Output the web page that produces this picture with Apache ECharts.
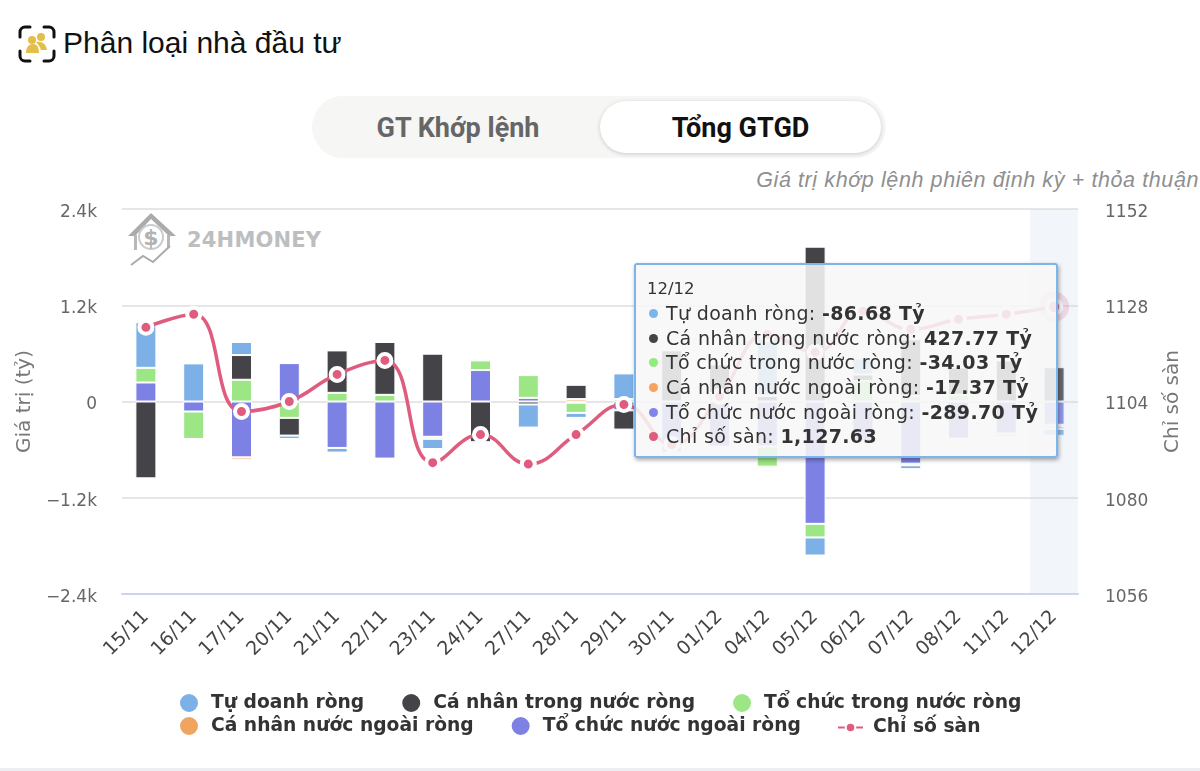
<!DOCTYPE html>
<html>
<head>
<meta charset="utf-8">
<script src="https://cdn.jsdelivr.net/npm/echarts@6/dist/echarts.min.js"></script>
<style>
  html, body { margin: 0; padding: 0; background: #fff; }
  .page { position: relative; width: 1200px; height: 771px; overflow: hidden; }
  #chart { position: absolute; left: 0; top: 0; width: 1200px; height: 771px; }
  .title { position: absolute; left: 63px; top: 24px; font: 30px/38px "Liberation Sans", sans-serif; color: #111; }
  .title-icon { position: absolute; left: 18px; top: 25px; }
  .toggle { position: absolute; left: 312px; top: 96px; width: 574px; height: 62px; border-radius: 31px; background: #f6f6f4; }
  .toggle div { position: absolute; top: 5px; height: 52px; text-align: center; font: bold 27px/54px Roboto, sans-serif; }
  .toggle .off { left: 0; width: 292px; color: #666; }
  .toggle .on { left: 288px; width: 281px; background: #fff; color: #111; border-radius: 26px; box-shadow: 0 1px 4px rgba(0,0,0,.18); }
  .note { position: absolute; right: 1px; top: 167px; font: italic 21.5px/26px "Liberation Sans", sans-serif; color: #8f8f8f; letter-spacing: .6px; }
  .logo { position: absolute; left: 126px; top: 210px; }
  .logo-text { position: absolute; left: 187px; top: 227px; font: bold 21px/26px "DejaVu Sans", sans-serif; color: #bcbec0; letter-spacing: .2px; }
  .band { position: absolute; left: 0; top: 768px; width: 1200px; height: 3px; background: #eceef2; }
</style>
</head>
<body>
<div class="page">
  <svg class="title-icon" width="38" height="38" viewBox="0 0 38 38">
    <path d="M2 12V7a5 5 0 0 1 5-5h5M26 2h5a5 5 0 0 1 5 5v5M36 26v5a5 5 0 0 1-5 5h-5M12 36H7a5 5 0 0 1-5-5v-5" fill="none" stroke="#111" stroke-width="3" stroke-linecap="round"/>
    <circle cx="14" cy="15" r="4" fill="#e3bf4a"/><circle cx="23" cy="12" r="4" fill="#e3bf4a"/>
    <path d="M8 28c0-6 3-9 7-9s6 3 6 9zM18 17c5-1 10 1 11 8l-6 0c-1-3-3-6-5-8z" fill="#e3bf4a"/>
  </svg>
  <div class="title">Phân loại nhà đầu tư</div>
  <div class="toggle">
    <div class="off">GT Khớp lệnh</div>
    <div class="on">Tổng GTGD</div>
  </div>
  <div class="note">Giá trị khớp lệnh phiên định kỳ + thỏa thuận</div>
  <svg class="logo" width="54" height="58" viewBox="0 0 54 58">
    <path d="M2 26 L25 3 L50 26 L43 26 L25 9 L9 26 Z" fill="#a9abad"/>
    <path d="M8 25v15h3V25zM41 25v13h3V25z" fill="#b5b7b9"/>
    <circle cx="25" cy="27" r="12" fill="none" stroke="#c9cbcd" stroke-width="2"/>
    <text x="25" y="35" font-family="DejaVu Sans" font-weight="bold" font-size="22" text-anchor="middle" fill="#b0b2b4">$</text>
    <path d="M5 55 L17 46 L27 52 L44 36" fill="none" stroke="#a9abad" stroke-width="2"/>
  </svg>
  <div class="logo-text">24HMONEY</div>
  <div id="chart"></div>
  <div class="band"></div>
</div>

<script>
const categories = ['15/11', '16/11', '17/11', '20/11', '21/11', '22/11', '23/11', '24/11', '27/11', '28/11',
  '29/11', '30/11', '01/12', '04/12', '05/12', '06/12', '07/12', '08/12', '11/12', '12/12']

// values in ty dong (12/12 comes from the tooltip)
const tuDoanh = [567, 475, 163, -42, -58, 0, -127, 0, -288, -62,
  320, -88, 0, 767, -225, 200, -48, 0, -20, -86.68]
const caNhanTrongNuoc = [-958, 0, 308, -221, 529, 659, 596, -508, -37, 178,
  -240, 638, 357, 70, 1930, 80, 705, 340, 512, 427.77]
const toChucTrongNuoc = [183, -342, 271, -204, 108, 83, -25, 120, 283, -127,
  30, 0, 105, -252, -170, 257, 70, 85, -40, -34.03]
const caNhanNuocNgoai = [0, 0, -29, 0, 0, 0, 0, 0, 0, 30,
  0, 0, 0, 0, 0, 0, -20, 0, 0, -17.37]
const toChucNuocNgoai = [237, -125, -696, 479, -579, -712, -440, 392, 46, -15,
  -110, -550, -562, -560, -1525, -496, -775, -462, -400, -289.7]
const chiSoSan = [1122.5, 1125.75, 1101.5, 1104, 1110.75, 1114.25, 1088.75, 1095.75, 1088.4, 1095.75,
  1103.25, 1093.25, 1105.25, 1120.75, 1116.25, 1126.5, 1122, 1124.5, 1125.75, 1127.63]

const fontFamily = '"DejaVu Sans", sans-serif'
const hoverIndex = categories.length - 1

const barSeries = (name, data, color) => ({
  name,
  type: 'bar',
  stack: 'net',
  barWidth: 21,
  data,
  itemStyle: { color, borderColor: '#fff', borderWidth: 1 },
  emphasis: { disabled: true }
})

const dot = (color) => `<span style="display:inline-block;width:9px;height:9px;border-radius:50%;background:${color};margin:0 8px 2px 2px"></span>`

const tooltipRow = (color, name, value) =>
  `<div style="height:24.7px;line-height:24.7px;white-space:nowrap;letter-spacing:.35px">${dot(color)}${name}: <b>${value}</b></div>`

const tooltipFormatter = (params) => {
  const i = params[0].dataIndex
  const rows = [
    ['#7cb5ec', 'Tự doanh ròng', tuDoanh],
    ['#434348', 'Cá nhân trong nước ròng', caNhanTrongNuoc],
    ['#90ed7d', 'Tổ chức trong nước ròng', toChucTrongNuoc],
    ['#f7a35c', 'Cá nhân nước ngoài ròng', caNhanNuocNgoai],
    ['#8085e9', 'Tổ chức nước ngoài ròng', toChucNuocNgoai]
  ]
  let html = `<div style="font-size:16.5px;line-height:25px">${categories[i]}</div>`
  rows.forEach(r => {
    html += tooltipRow(r[0], r[1], r[2][i].toFixed(2) + ' Tỷ')
  })
  html += tooltipRow('#df5c7e', 'Chỉ số sàn', chiSoSan[i].toLocaleString('en-US', { minimumFractionDigits: 2 }))
  return html
}

const legendText = { fontFamily, fontSize: 18.7, fontWeight: 'bold', color: '#333', padding: [0, 0, 0, 7] }

const chart = echarts.init(document.getElementById('chart'), null, { renderer: 'canvas' })

chart.setOption({
  animation: false,
  backgroundColor: 'transparent',
  textStyle: { fontFamily },
  grid: { left: 122, right: 122, top: 209, bottom: 177 },
  tooltip: {
    trigger: 'axis',
    alwaysShowContent: true,
    transitionDuration: 0,
    position: [634, 263],
    axisPointer: { type: 'shadow', shadowStyle: { color: 'rgba(204, 214, 235, 0.25)' } },
    backgroundColor: 'rgba(247, 247, 247, 0.88)',
    borderColor: '#7cb5ec',
    borderWidth: 2,
    borderRadius: 3,
    padding: [11, 6, 10, 11],
    textStyle: { color: '#333', fontSize: 19, fontFamily },
    extraCssText: 'box-shadow:1px 2px 4px rgba(0,0,0,.35);width:424px;height:195px;box-sizing:border-box;',
    formatter: tooltipFormatter
  },
  legend: [
    {
      left: 178,
      top: 692,
      padding: 0,
      itemWidth: 20,
      itemHeight: 20,
      itemGap: 36,
      selectedMode: false,
      textStyle: legendText,
      data: [
        { name: 'Tự doanh ròng', icon: 'circle' },
        { name: 'Cá nhân trong nước ròng', icon: 'circle' },
        { name: 'Tổ chức trong nước ròng', icon: 'circle' }
      ]
    },
    {
      left: 178,
      top: 715,
      padding: 0,
      itemWidth: 20,
      itemHeight: 20,
      itemGap: 36,
      selectedMode: false,
      textStyle: legendText,
      data: [
        { name: 'Cá nhân nước ngoài ròng', icon: 'circle' },
        { name: 'Tổ chức nước ngoài ròng', icon: 'circle' }
      ]
    },
    {
      left: 837,
      top: 718,
      padding: 0,
      itemWidth: 25,
      itemHeight: 12,
      selectedMode: false,
      textStyle: { ...legendText, padding: [0, 0, 0, 5] },
      data: ['Chỉ số sàn']
    }
  ],
  xAxis: {
    type: 'category',
    data: categories,
    axisLine: { lineStyle: { color: '#ccd6eb', width: 2 }, onZero: false },
    axisTick: { show: false },
    axisLabel: { rotate: 45, interval: 0, fontSize: 19, color: '#444', margin: 20 }
  },
  yAxis: [
    {
      type: 'value',
      min: -2400,
      max: 2400,
      interval: 1200,
      name: 'Giá trị (tỷ)',
      nameLocation: 'middle',
      nameGap: 85,
      nameTextStyle: { fontSize: 20, color: '#777' },
      axisLine: { show: false },
      axisTick: { show: false },
      splitLine: { lineStyle: { color: '#e6e6e6', width: 2 } },
      axisLabel: {
        fontSize: 17,
        color: '#666',
        margin: 25,
        verticalAlign: 'top',
        lineHeight: 7,
        formatter: v => v === 0 ? '0' : (v < 0 ? '−' : '') + Math.abs(v / 1000) + 'k'
      }
    },
    {
      type: 'value',
      min: 1056,
      max: 1152,
      interval: 24,
      name: 'Chỉ số sàn',
      nameLocation: 'middle',
      nameGap: 85,
      nameTextStyle: { fontSize: 20, color: '#777' },
      axisLine: { show: false },
      axisTick: { show: false },
      splitLine: { show: false },
      axisLabel: { fontSize: 17, color: '#666', margin: 27, verticalAlign: 'top', lineHeight: 7, formatter: v => String(v) }
    }
  ],
  // stacks grow from the first series, so the order is the reverse of the legend
  series: [
    barSeries('Tổ chức nước ngoài ròng', toChucNuocNgoai, '#7c81e3'),
    barSeries('Cá nhân nước ngoài ròng', caNhanNuocNgoai, '#f0a45f'),
    barSeries('Tổ chức trong nước ròng', toChucTrongNuoc, '#9ce685'),
    barSeries('Cá nhân trong nước ròng', caNhanTrongNuoc, '#434348'),
    barSeries('Tự doanh ròng', tuDoanh, '#7cb0e6'),
    {
      name: 'Chỉ số sàn',
      type: 'line',
      yAxisIndex: 1,
      smooth: 0.45,
      data: chiSoSan,
      symbol: 'circle',
      symbolSize: 13,
      showAllSymbol: true,
      z: 5,
      lineStyle: { color: '#df5c7e', width: 3.5 },
      itemStyle: { color: '#df5c7e', borderColor: '#fff', borderWidth: 4 },
      emphasis: { disabled: true },
      markPoint: {
        silent: true,
        symbol: 'circle',
        symbolSize: 30,
        label: { show: false },
        itemStyle: { color: 'rgba(223, 92, 126, 0.25)' },
        data: [{ coord: [hoverIndex, chiSoSan[hoverIndex]] }]
      }
    }
  ]
})

chart.dispatchAction({ type: 'showTip', seriesIndex: 5, dataIndex: hoverIndex })
</script>
</body>
</html>
